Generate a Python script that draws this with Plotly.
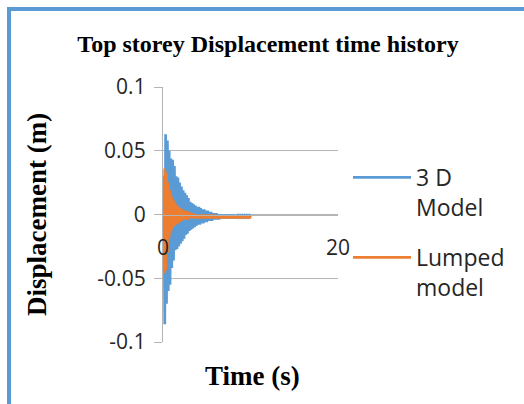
import plotly.graph_objects as go

# Sampled response of the roof level (time in s, displacement in m)
time_s = [0.0, 0.1, 0.2, 0.3, 0.4, 0.5, 0.6, 0.7, 0.8, 0.9,
          1.0, 1.1, 1.2, 1.3, 1.4, 1.5, 1.6, 1.7, 1.8, 1.9,
          2.0, 2.1, 2.2, 2.3, 2.4, 2.5, 2.6, 2.7, 2.8, 2.9,
          3.0, 3.1, 3.2, 3.3, 3.4, 3.5, 3.6, 3.7, 3.8, 3.9,
          4.0, 4.1, 4.2, 4.3, 4.4, 4.5, 4.6, 4.7, 4.8, 4.9,
          5.0, 5.1, 5.2, 5.3, 5.4, 5.5, 5.6, 5.7, 5.8, 5.9,
          6.0, 6.1, 6.2, 6.3, 6.4, 6.5, 6.6, 6.7, 6.8, 6.9,
          7.0, 7.1, 7.2, 7.3, 7.4, 7.5, 7.6, 7.7, 7.8, 7.9,
          8.0, 8.1, 8.2, 8.3, 8.4, 8.5, 8.6, 8.7, 8.8, 8.9,
          9.0, 9.1, 9.2, 9.3, 9.4, 9.5, 9.6, 9.7, 9.8, 9.9,
          10.0]

disp_3d = [0.000, 0.030, -0.086, 0.063, -0.070, 0.058, -0.060, 0.050, -0.055, 0.044,
           -0.042, 0.043, -0.036, 0.038, -0.028, 0.030, -0.027, 0.029, -0.025, 0.025,
           -0.023, 0.022, -0.021, 0.019, -0.019, 0.017, -0.016, 0.015, -0.015, 0.013,
           -0.013, 0.010, -0.012, 0.009, -0.011, 0.008, -0.010, 0.007, -0.009, 0.006,
           -0.008, 0.006, -0.008, 0.005, -0.007, 0.004, -0.007, 0.004, -0.006, 0.003,
           -0.006, 0.003, -0.005, 0.002, -0.005, 0.002, -0.005, 0.001, -0.004, 0.001,
           -0.004, 0.001, -0.004, 0.000, -0.004, 0.000, -0.003, 0.000, -0.003, 0.000,
           -0.003, 0.000, -0.003, 0.000, -0.003, 0.000, -0.003, 0.000, -0.003, 0.000,
           -0.003, 0.000, -0.003, -0.001, -0.002, -0.001, -0.002, -0.001, -0.002, -0.001,
           -0.002, -0.001, -0.002, -0.001, -0.002, -0.001, -0.002, -0.001, -0.002, -0.001,
           -0.002]

disp_lumped = [0.000, -0.046, 0.036, -0.044, 0.033, -0.030, 0.025, -0.018, 0.019, -0.014,
               0.014, -0.011, 0.011, -0.009, 0.009, -0.008, 0.007, -0.007, 0.006, -0.006,
               0.005, -0.005, 0.004, -0.004, 0.003, -0.004, 0.003, -0.004, 0.002, -0.004,
               0.002, -0.003, 0.001, -0.003, 0.001, -0.003, 0.000, -0.003, 0.000, -0.003,
               0.000, -0.003, 0.000, -0.003, 0.000, -0.003, 0.000, -0.003, 0.000, -0.003,
               0.000, -0.003, 0.000, -0.003, 0.000, -0.003, 0.000, -0.003, 0.000, -0.003,
               -0.001, -0.003, -0.001, -0.003, -0.001, -0.003, -0.001, -0.003, -0.001, -0.003,
               -0.001, -0.003, -0.001, -0.003, -0.001, -0.003, -0.001, -0.003, -0.001, -0.003,
               -0.001, -0.003, -0.001, -0.003, -0.001, -0.003, -0.001, -0.003, -0.001, -0.003,
               -0.001, -0.003, -0.001, -0.003, -0.001, -0.003, -0.001, -0.003, -0.001, -0.003,
               -0.001]

series_names = ["3 D<br>Model", "Lumped<br>model"]
series_colors = ["#5b9bd5", "#ed7d31"]

y_tickvals = [-0.1, -0.05, 0, 0.05, 0.1]
y_ticktext = ["-0.1", "-0.05", "0", "0.05", "0.1"]
x_tickvals = [0, 20]
x_ticktext = ["0", "20"]

W, H = 524, 404
ML, MR, MT, MB = 163, 186, 87, 62
PW, PH = W - ML - MR, H - MT - MB


def px_x(px):
    return (px - ML) / PW


def px_y(py):
    return (H - MB - py) / PH


fig = go.Figure()
for i, (name, ys, col) in enumerate(zip(series_names, [disp_3d, disp_lumped], series_colors)):
    fig.add_trace(go.Scatter(x=time_s, y=ys, mode="lines", name=name,
                             legendgroup=f"g{i}",
                             line=dict(color=col, width=2.75)))

grid = "#b4b4b4"
tick_font = dict(family="Open Sans", size=21, color="#262626")

fig.update_layout(
    width=W, height=H,
    margin=dict(l=ML, r=MR, t=MT, b=MB),
    paper_bgcolor="white", plot_bgcolor="white",
    title=dict(text="<b>Top storey Displacement time history</b>",
               x=268 / W, xanchor="center", xref="container",
               y=1 - 44 / H, yanchor="middle",
               font=dict(family="Liberation Serif", size=24, color="black")),
    xaxis=dict(range=[0, 20], tickvals=x_tickvals, ticktext=x_ticktext,
               showgrid=False, zeroline=False, showline=True, linecolor=grid,
               linewidth=1.3, anchor="free", position=0.5, ticks="",
               ticklabelstandoff=14, tickfont=tick_font),
    yaxis=dict(range=[-0.1, 0.1], tickvals=y_tickvals, ticktext=y_ticktext,
               showgrid=True, gridcolor=grid, gridwidth=1.3, zeroline=False,
               showline=True, linecolor=grid, linewidth=1.3,
               ticks="outside", ticklen=8, tickcolor=grid, tickwidth=1.3,
               ticklabelstandoff=4, tickfont=tick_font),
    legend=dict(x=px_x(348), y=px_y(156), xanchor="left", yanchor="top",
                valign="top", bgcolor="rgba(0,0,0,0)",
                traceorder="grouped", tracegroupgap=17,
                font=dict(family="Open Sans", size=23, color="#262626"),
                itemwidth=58),
    showlegend=True,
)

# axis titles
fig.add_annotation(text="<b>Displacement (m)</b>", xref="paper", yref="paper",
                   x=px_x(37), y=px_y(215), textangle=-90, showarrow=False,
                   font=dict(family="Liberation Serif", size=27, color="black"),
                   xanchor="center", yanchor="middle")
fig.add_annotation(text="<b>Time (s)</b>", xref="paper", yref="paper",
                   x=px_x(252), y=px_y(376), showarrow=False,
                   font=dict(family="Liberation Serif", size=27, color="black"),
                   xanchor="center", yanchor="middle")

# chart frame (only top and left edges fall inside the canvas)
fig.add_shape(type="rect", xref="paper", yref="paper",
              x0=px_x(9), x1=px_x(700), y0=px_y(600), y1=px_y(9),
              line=dict(color="#5b9bd5", width=4), layer="below")

fig.write_html("out.html")
